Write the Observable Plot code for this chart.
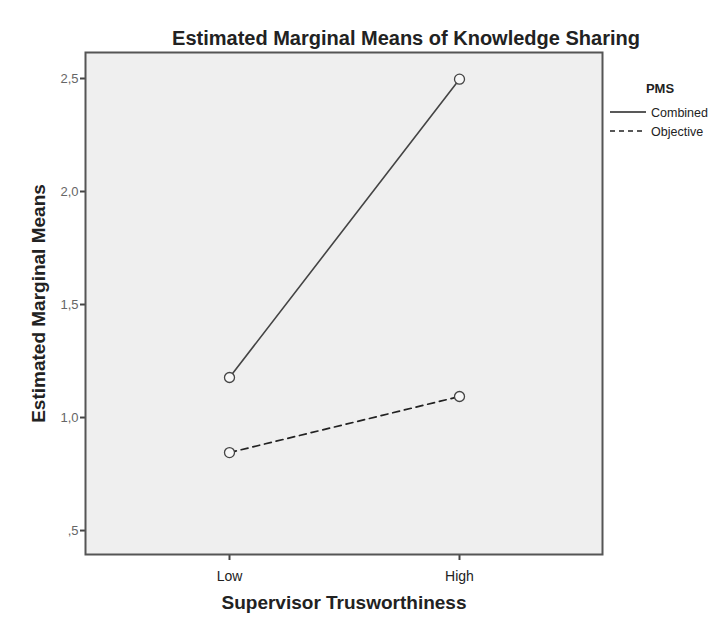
<!DOCTYPE html>
<html>
<head>
<meta charset="utf-8">
<script src="https://cdn.jsdelivr.net/npm/d3@7"></script>
<script src="https://cdn.jsdelivr.net/npm/@observablehq/plot@0.6"></script>
<style>
  html, body { margin: 0; padding: 0; background: #fff; overflow: hidden; }
  #wrap { position: relative; width: 714px; height: 624px; overflow: hidden; font-family: "Liberation Sans", Arial, sans-serif; }
  #title { position: absolute; top: 26px; left: 0; width: 812px; text-align: center; font-weight: bold; font-size: 20px; line-height: 24px; color: #222; white-space: nowrap; }
  #chart { position: absolute; top: 0; left: 0; }
  g[aria-label="x-axis label"] text { font-weight: bold; font-size: 19px; fill: #222; }
  g[aria-label="y-axis label"] text { font-weight: bold; font-size: 19px; fill: #222; }
</style>
</head>
<body>
<div id="wrap">
  <div id="chart"></div>
  <div id="title">Estimated Marginal Means of Knowledge Sharing</div>
</div>
<script>
// ---- data ----
const levels = ["Low", "High"];
const series = ["Combined", "Objective"];
const combined = [1.177, 2.497];
const objective = [0.845, 1.093];
const yTicks = [0.5, 1.0, 1.5, 2.0, 2.5];
const legendTitle = "PMS";

const data = [];
levels.forEach((lv, i) => {
  data.push({level: lv, pms: series[0], value: combined[i]});
  data.push({level: lv, pms: series[1], value: objective[i]});
});
const comb = data.filter(d => d.pms === "Combined");
const obj = data.filter(d => d.pms === "Objective");

const fmt = d => d.toFixed(1).replace(".", ",").replace(/^0/, "");

const plot = Plot.plot({
  width: 714,
  height: 624,
  marginLeft: 85,
  marginRight: 112,
  marginTop: 52,
  marginBottom: 70,
  style: {fontFamily: "'Liberation Sans', Arial, sans-serif", background: "transparent", overflow: "hidden"},
  x: {type: "point", domain: levels, padding: 0.62, align: 0.5},
  y: {domain: [0.394, 2.615]},
  marks: [
    Plot.frame({fill: "#efefef", stroke: "none"}),
    Plot.axisY({ticks: yTicks, tickFormat: fmt, tickSize: 5, tickPadding: 2, fontSize: 13, color: "#666",
      stroke: "#444", strokeWidth: 2,
      label: "Estimated Marginal Means", labelAnchor: "center", labelOffset: 54, labelArrow: "none"}),
    Plot.axisX({tickSize: 6, tickPadding: 11, fontSize: 14, color: "#222", stroke: "#444", strokeWidth: 2,
      label: "Supervisor Trusworthiness", labelAnchor: "center", labelOffset: 54, labelArrow: "none"}),
    Plot.line(comb, {x: "level", y: "value", stroke: "#444", strokeWidth: 1.6}),
    Plot.line(obj, {x: "level", y: "value", stroke: "#222", strokeWidth: 1.7, strokeDasharray: "7,5"}),
    Plot.dot(data, {x: "level", y: "value", r: 5, stroke: "#444", strokeWidth: 1.3, fill: "#f7f7f7"}),
    Plot.frame({stroke: "#555", strokeWidth: 2})
  ]
});
document.getElementById("chart").appendChild(plot);

// legend
const svg = d3.select(plot);
const lg = svg.append("g").attr("font-family", "'Liberation Sans', Arial, sans-serif");
lg.append("text").attr("x", 660).attr("y", 93).attr("text-anchor", "middle")
  .attr("font-weight", "bold").attr("font-size", 13).attr("fill", "#222").text(legendTitle);
series.forEach((s, i) => {
  const y = 112 + i * 19;
  lg.append("line").attr("x1", 610).attr("x2", 646).attr("y1", y).attr("y2", y)
    .attr("stroke", "#222").attr("stroke-width", 1.4)
    .attr("stroke-dasharray", i === 1 ? "5,4" : null);
  lg.append("text").attr("x", 651).attr("y", y + 4.5).attr("text-anchor", "start")
    .attr("font-size", 12.5).attr("fill", "#222").text(s);
});
</script>
</body>
</html>
